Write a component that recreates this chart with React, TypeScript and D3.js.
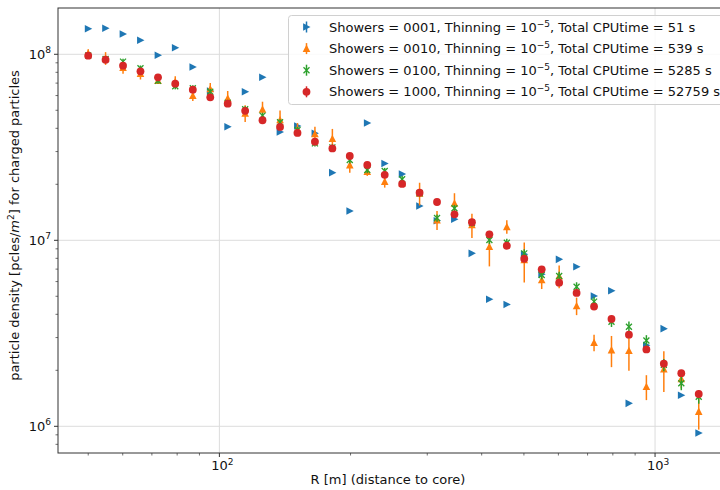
import React from 'react';
import * as d3 from 'd3';

// radial distances (log spaced bins)
const R = [50, 54.8, 60.1, 65.9, 72.3, 79.2, 86.9, 95.3, 104.5, 114.6, 125.6, 137.8,
  151.1, 165.7, 181.7, 199.2, 218.5, 239.6, 262.7, 288.1, 315.9, 346.4, 379.9, 416.6,
  456.8, 500.9, 549.3, 602.4, 660.5, 724.4, 794.3, 871.0, 955.2, 1047.5, 1148.7, 1259.6];

// Showers = 0001
const blue = [1.373e8, 1.38e8, 1.286e8, 1.189e8, 9.88e7, 1.085e8, 8.55e7, 6.35e7, 4.08e7, 6.29e7,
  7.52e7, 3.82e7, 4.12e7, 3.76e7, 2.31e7, 1.437e7, 4.27e7, 2.59e7, 2.27e7, 1.529e7, 1.275e7,
  1.297e7, 8.51e6, 4.82e6, 4.52e6, 8.41e6, 6.57e6, 7.9e6, 7.21e6, 5.02e6, 5.36e6, 1.329e6,
  2.73e6, 3.35e6, 1.468e6, 9.2e5];
const blueErr = [1.5e6, 1.5e6, 1.4e6, 1.3e6, 1.1e6, 1.2e6, 9e5, 7e5, 4.5e5, 7e5, 8e5, 4e5, 4.5e5,
  4e5, 2.5e5, 1.6e5, 4.5e5, 2.8e5, 2.5e5, 1.7e5, 1.4e5, 1.4e5, 9e4, 5e4, 5e4, 9e4, 7e4, 8.5e4,
  8e4, 5.5e4, 6e4, 1.5e4, 3e4, 3.6e4, 1.6e4, 1e4];

// Showers = 0010
const orange = [1.013e8, 9.52e7, 8.47e7, 7.87e7, 7.21e7, 7.12e7, 5.99e7, 6.51e7, 5.8e7, 4.82e7,
  5.06e7, 4.44e7, 3.95e7, 3.73e7, 3.52e7, 2.54e7, 2.34e7, 2.07e7, 2.03e7, 1.789e7, 1.286e7,
  1.581e7, 1.209e7, 9.24e6, 1.183e7, 7.84e6, 6.12e6, 6.43e6, 4.44e6, 2.82e6, 2.57e6, 2.55e6,
  1.633e6, 2.03e6, 1.8e6, 1.2e6];
const orangeErr = [5.2e6, 7.5e6, 6e6, 5.5e6, 2.5e6, 5e6, 3.8e6, 5e6, 5.5e6, 5e6, 5e6, 5.5e6,
  3.2e6, 3.5e6, 4.5e6, 2.3e6, 1.2e6, 1.5e6, 8e5, 2.5e6, 1.5e6, 2.1e6, 1.8e6, 2e6, 1e6, 1.9e6,
  6.5e5, 9e5, 4.8e5, 2.9e5, 4.9e5, 5.6e5, 2.5e5, 5e5, 2e5, 2.4e5];

// Showers = 0100
const green = [9.85e7, 9.43e7, 9.13e7, 8.41e7, 7.21e7, 6.73e7, 6.57e7, 6.29e7, 5.49e7, 5.06e7,
  4.68e7, 4.31e7, 3.92e7, 3.32e7, 3.16e7, 2.7e7, 2.39e7, 2.36e7, 2.13e7, 1.789e7, 1.318e7,
  1.486e7, 1.243e7, 1.004e7, 9.71e6, 8.51e6, 6.51e6, 6.43e6, 5.63e6, 4.68e6, 3.65e6, 3.43e6,
  2.89e6, 2.14e6, 1.703e6, 1.443e6];
const greenErr = [3.5e6, 3.3e6, 3.2e6, 3.0e6, 2.7e6, 2.5e6, 2.4e6, 2.3e6, 2.0e6, 1.9e6, 1.7e6,
  1.6e6, 1.5e6, 1.3e6, 1.2e6, 1.1e6, 9.5e5, 9e5, 8.5e5, 7.5e5, 6e5, 6.5e5, 5.5e5, 4.8e5, 4.7e5,
  4.3e5, 3.5e5, 3.5e5, 3.2e5, 2.8e5, 2.3e5, 2.3e5, 2.0e5, 1.6e5, 1.4e5, 1.2e5];

// Showers = 1000
const red = [9.83e7, 9.35e7, 8.69e7, 8.1e7, 7.52e7, 6.95e7, 6.45e7, 5.87e7, 5.43e7, 4.97e7,
  4.42e7, 4.07e7, 3.78e7, 3.39e7, 3.12e7, 2.84e7, 2.54e7, 2.25e7, 2.01e7, 1.803e7, 1.607e7,
  1.38e7, 1.251e7, 1.077e7, 9.35e6, 7.96e6, 6.98e6, 5.92e6, 5.21e6, 4.4e6, 3.78e6, 3.11e6,
  2.59e6, 2.17e6, 1.93e6, 1.492e6];
const redErr = [1.3e6, 1.2e6, 1.2e6, 1.1e6, 1.0e6, 9.5e5, 9e5, 8.5e5, 8e5, 7.5e5, 7e5, 6.5e5,
  6e5, 5.5e5, 5.2e5, 4.8e5, 4.4e5, 4e5, 3.7e5, 3.4e5, 3.1e5, 2.8e5, 2.6e5, 2.3e5, 2.1e5, 1.9e5,
  1.7e5, 1.5e5, 1.4e5, 1.3e5, 1.1e5, 1e5, 9e4, 8e4, 7.5e4, 6.5e4];

const showers = ['0001', '0010', '0100', '1000'];
const cpuTimes = ['51', '539', '5285', '52759'];
const colors = ['#1f77b4', '#ff7f0e', '#2ca02c', '#d62728'];
const markers = ['tri-right', 'tri-up', 'x', 'circle'];

const xTicks = [100, 1000];
const yTicks = [1e6, 1e7, 1e8];

const FONT = 'DejaVu Sans, sans-serif';
const FS = 13;
const left = 58, top = 8, right = 730, bottom = 453;

function Marker({ type, color }: { type: string; color: string }) {
  if (type === 'tri-right') return <path d="M-3.4,-3.8L4,0L-3.4,3.8Z" fill={color} />;
  if (type === 'tri-up') return <path d="M-3.8,3.4L0,-4L3.8,3.4Z" fill={color} />;
  if (type === 'x')
    return <path d="M-3,-3L3,3M-3,3L3,-3" stroke={color} strokeWidth={1.3} fill="none" />;
  return <circle r={3.9} fill={color} />;
}

function Pow({ base, exp, x, y, anchor, size }: any) {
  return (
    <text x={x} y={y} textAnchor={anchor} fontFamily={FONT} fontSize={size} fill="#111">
      {base}
      <tspan dy={-size * 0.42} fontSize={size * 0.7}>{exp}</tspan>
    </text>
  );
}

export default function App() {
  const x = d3.scaleLog().domain([Math.pow(10, 1.6296), Math.pow(10, 3.172)]).range([left, right]);
  const y = d3.scaleLog().domain([Math.pow(10, 5.8565), Math.pow(10, 8.2489)]).range([bottom, top]);

  const series = [
    { vals: blue, err: blueErr },
    { vals: orange, err: orangeErr },
    { vals: green, err: greenErr },
    { vals: red, err: redErr },
  ];

  const xMinor: number[] = [];
  [10, 100, 1000].forEach((d) => {
    for (let k = 2; k <= 9; k++) {
      const v = d * k;
      if (x(v) >= left && x(v) <= right) xMinor.push(v);
    }
  });
  const yMinor: number[] = [];
  [1e5, 1e6, 1e7, 1e8].forEach((d) => {
    for (let k = 2; k <= 9; k++) {
      const v = d * k;
      if (y(v) >= top && y(v) <= bottom) yMinor.push(v);
    }
  });

  return (
    <svg width={720} height={490} style={{ position: 'absolute', left: 0, top: 0, background: '#fff' }}>
      {/* grid */}
      {xTicks.map((t) => (
        <line key={'gx' + t} x1={x(t)} x2={x(t)} y1={top} y2={bottom} stroke="#dcdcdc" strokeWidth={1} />
      ))}
      {yTicks.map((t) => (
        <line key={'gy' + t} x1={left} x2={right} y1={y(t)} y2={y(t)} stroke="#dcdcdc" strokeWidth={1} />
      ))}

      {/* error bars + markers */}
      {series.map((s, si) => (
        <g key={'s' + si}>
          {R.map((r, i) => (
            <line key={'e' + i} x1={x(r)} x2={x(r)} y1={y(s.vals[i] + s.err[i])}
              y2={y(Math.max(s.vals[i] - s.err[i], 1))} stroke={colors[si]} strokeWidth={1.5} />
          ))}
          {R.map((r, i) => (
            <g key={'m' + i} transform={`translate(${x(r)},${y(s.vals[i])})`}>
              <Marker type={markers[si]} color={colors[si]} />
            </g>
          ))}
        </g>
      ))}

      {/* frame */}
      <rect x={left} y={top} width={right - left} height={bottom - top} fill="none" stroke="#333" strokeWidth={1} />

      {/* x ticks */}
      {xTicks.map((t) => (
        <g key={'xt' + t}>
          <line x1={x(t)} x2={x(t)} y1={bottom} y2={bottom + 4} stroke="#333" />
          <Pow base="10" exp={Math.round(Math.log10(t))} x={x(t) + 3} y={bottom + 17} anchor="middle" size={FS} />
        </g>
      ))}
      {xMinor.map((t) => (
        <line key={'xm' + t} x1={x(t)} x2={x(t)} y1={bottom} y2={bottom + 2.5} stroke="#333" strokeWidth={0.7} />
      ))}
      {/* y ticks */}
      {yTicks.map((t) => (
        <g key={'yt' + t}>
          <line x1={left - 4} x2={left} y1={y(t)} y2={y(t)} stroke="#333" />
          <Pow base="10" exp={Math.round(Math.log10(t))} x={left - 7} y={y(t) + 4.5} anchor="end" size={FS} />
        </g>
      ))}
      {yMinor.map((t) => (
        <line key={'ym' + t} x1={left - 2.5} x2={left} y1={y(t)} y2={y(t)} stroke="#333" strokeWidth={0.7} />
      ))}

      {/* axis labels */}
      <text x={388} y={484} textAnchor="middle" fontFamily={FONT} fontSize={FS} fill="#111">
        R [m] (distance to core)
      </text>
      <text transform={`translate(19,${(top + bottom) / 2 - 5}) rotate(-90)`} textAnchor="middle"
        fontFamily={FONT} fontSize={FS} fill="#111">
        particle density [pcles/<tspan fontStyle="italic">m</tspan>
        <tspan dy={-5} fontSize={9}>2</tspan>
        <tspan dy={5}>] for charged particles</tspan>
      </text>

      {/* legend */}
      <rect x={288.5} y={15.5} width={436} height={89} rx={3} fill="#fff" fillOpacity={0.85} stroke="#d0d0d0" />
      {showers.map((sh, i) => {
        const ly = 27 + i * 21.6;
        return (
          <g key={'lg' + i}>
            <line x1={306.5} x2={306.5} y1={ly - 5.5} y2={ly + 5.5} stroke={colors[i]} strokeWidth={1.5} />
            <g transform={`translate(306.5,${ly})`}>
              <Marker type={markers[i]} color={colors[i]} />
            </g>
            <text x={329} y={ly + 4.5} fontFamily={FONT} fontSize={FS} fill="#111">
              Showers = {sh}, Thinning = 10
              <tspan dy={-5} fontSize={9}>−5</tspan>
              <tspan dy={5}>, Total CPUtime = {cpuTimes[i]} s</tspan>
            </text>
          </g>
        );
      })}
    </svg>
  );
}
